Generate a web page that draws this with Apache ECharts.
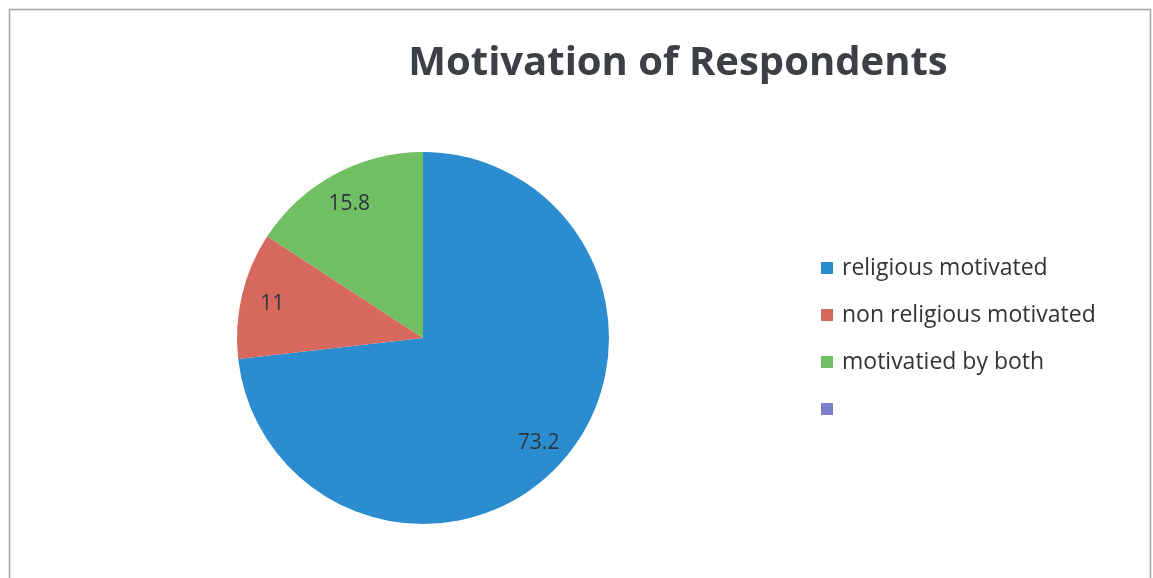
<!DOCTYPE html>
<html>
<head>
<meta charset="utf-8">
<script src="https://cdn.jsdelivr.net/npm/echarts@6/dist/echarts.min.js"></script>
<style>html,body{margin:0;padding:0;background:#fff;}#c{width:1153px;height:578px;}</style>
</head>
<body>
<div id="c"></div>
<script>
const categories = ['religious motivated', 'non religious motivated', 'motivatied by both', ' '];
const values = [73.2, 11, 15.8, 0];
const colors = ['#2b8dd0', '#d7685d', '#70bf62', '#7b80c6'];
const titleText = 'Motivation of Respondents';

const chart = echarts.init(document.getElementById('c'));
const pieData = categories.map((n, i) => ({ name: n, value: values[i], itemStyle: { color: colors[i] } }));
const labelData = categories.map((n, i) => ({ name: n, value: values[i], label: { show: values[i] > 0 } }));
chart.setOption({
  animation: false,
  backgroundColor: '#fff',
  title: {
    text: titleText, left: 673, textAlign: 'center', top: 39,
    textStyle: { fontFamily: 'Open Sans', fontWeight: 'bold', fontSize: 40, color: '#3b4045' }
  },
  legend: {
    orient: 'vertical', left: 816, top: 248,
    data: categories,
    icon: 'rect', itemWidth: 12, itemHeight: 12, itemGap: 17,
    textStyle: { fontFamily: 'Open Sans', fontSize: 23, color: '#333333', lineHeight: 30, padding: [0, 0, 0, 4] }
  },
  series: [
    {
      type: 'pie', center: [423, 338], radius: 186, startAngle: 90, clockwise: true,
      label: { show: false }, labelLine: { show: false }, silent: true,
      data: pieData
    },
    {
      type: 'pie', center: [423, 340], radius: [118, 186], startAngle: 90, clockwise: true,
      itemStyle: { color: 'rgba(0,0,0,0)' }, silent: true, legendHoverLink: false,
      label: { show: true, position: 'inside', formatter: '{c}', fontFamily: 'Open Sans', fontSize: 21, color: '#2c3640' },
      labelLine: { show: false },
      data: labelData
    }
  ],
  graphic: [{
    type: 'rect', shape: { x: 9.5, y: 9.5, width: 1141, height: 580 },
    style: { fill: 'none', stroke: '#9aa3a8', lineWidth: 1.5 }, silent: true
  }]
});
</script>
</body>
</html>
